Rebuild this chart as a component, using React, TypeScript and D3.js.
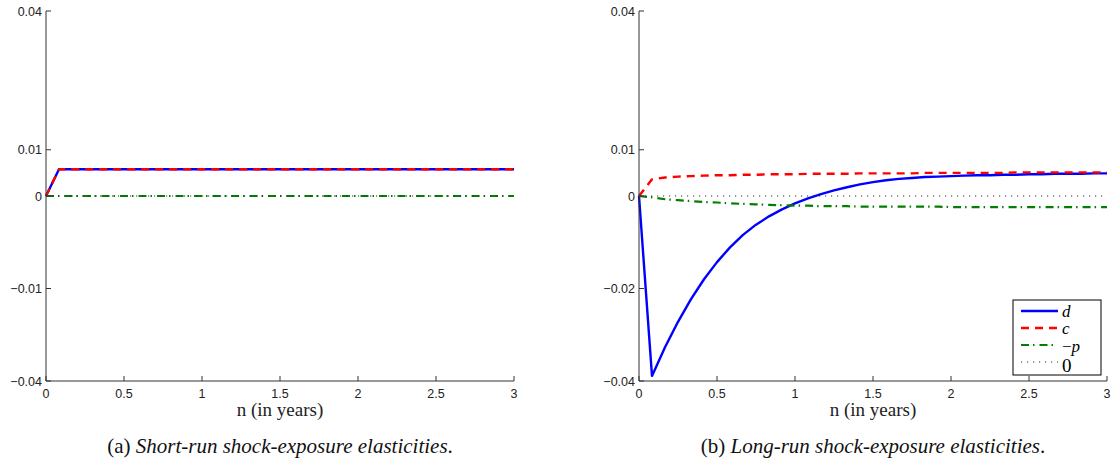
import React from "react";
import * as d3 from "d3";

// ---- data ----
const monthIndex = [0,1,2,3,4,5,6,7,8,9,10,11,12,13,14,15,16,17,18,19,20,21,22,23,24,25,26,27,28,29,30,31,32,33,34,35,36];
const years = monthIndex.map((m) => m / 12);

const shortD = [0,0.0058,0.0058,0.0058,0.0058,0.0058,0.0058,0.0058,0.0058,0.0058,0.0058,0.0058,0.0058,0.0058,0.0058,0.0058,0.0058,0.0058,0.0058,0.0058,0.0058,0.0058,0.0058,0.0058,0.0058,0.0058,0.0058,0.0058,0.0058,0.0058,0.0058,0.0058,0.0058,0.0058,0.0058,0.0058,0.0058];
const shortC = [0,0.0058,0.0058,0.0058,0.0058,0.0058,0.0058,0.0058,0.0058,0.0058,0.0058,0.0058,0.0058,0.0058,0.0058,0.0058,0.0058,0.0058,0.0058,0.0058,0.0058,0.0058,0.0058,0.0058,0.0058,0.0058,0.0058,0.0058,0.0058,0.0058,0.0058,0.0058,0.0058,0.0058,0.0058,0.0058,0.0058];
const shortP = [0,0,0,0,0,0,0,0,0,0,0,0,0,0,0,0,0,0,0,0,0,0,0,0,0,0,0,0,0,0,0,0,0,0,0,0,0];
const zeroLine = [0,0,0,0,0,0,0,0,0,0,0,0,0,0,0,0,0,0,0,0,0,0,0,0,0,0,0,0,0,0,0,0,0,0,0,0,0];

const longD = [0,-0.0389,-0.0327,-0.0272,-0.0223,-0.0180,-0.0143,-0.0111,-0.0084,-0.0062,-0.0044,-0.0029,-0.0016,-0.0005,0.0004,0.0012,0.0019,0.0025,0.0030,0.0034,0.0037,0.0039,0.0041,0.0042,0.0043,0.0044,0.0045,0.0045,0.0046,0.0046,0.0047,0.0047,0.0048,0.0048,0.0048,0.0049,0.0049];
const longC = [0,0.0036,0.0040,0.0042,0.0043,0.0044,0.0045,0.0045,0.0046,0.0046,0.0047,0.0047,0.0047,0.0048,0.0048,0.0048,0.0048,0.0049,0.0049,0.0049,0.0049,0.0049,0.0050,0.0050,0.0050,0.0050,0.0050,0.0050,0.0050,0.0051,0.0051,0.0051,0.0051,0.0051,0.0051,0.0051,0.0051];
const longP = [0,-0.0003,-0.0007,-0.0009,-0.0011,-0.0013,-0.0014,-0.0016,-0.0017,-0.0018,-0.0019,-0.0020,-0.0021,-0.0021,-0.0022,-0.0022,-0.0022,-0.0023,-0.0023,-0.0023,-0.0023,-0.0023,-0.0023,-0.0023,-0.0024,-0.0024,-0.0024,-0.0024,-0.0024,-0.0024,-0.0024,-0.0024,-0.0024,-0.0024,-0.0024,-0.0024,-0.0024];

const xTicks = [0, 0.5, 1, 1.5, 2, 2.5, 3];
const xTickLabels = ["0", "0.5", "1", "1.5", "2", "2.5", "3"];
const yTicks = [0.04, 0.01, 0, -0.02, -0.04];
const yTickLabelsShort = ["0.04", "0.01", "0", "\u22120.01", "\u22120.04"];
const yTickLabelsLong = ["0.04", "0.01", "0", "\u22120.02", "\u22120.04"];

const legendLabels = ["d", "c", "\u2212p", "0"];

// ---- styles ----
const seriesStyles = [
  { color: "#0000ff", width: 2.4, dash: "" },
  { color: "#ff0000", width: 2.4, dash: "8,6" },
  { color: "#008000", width: 2.2, dash: "8,4,1.5,5" },
  { color: "#333333", width: 1, dash: "1.2,4.8" },
];

const axisColor = "#333";
const sansFont = "'Liberation Sans', Arial, Helvetica, sans-serif";
const serifFont = "'Liberation Serif', 'Times New Roman', serif";

type PanelProps = {
  x0: number;
  x1: number;
  series: number[][];
  yLabels: string[];
  caption: [string, string];
  legend?: boolean;
};

const Y_TOP = 11;
const Y_BOTTOM = 381;

function Panel({ x0, x1, series, yLabels, caption, legend }: PanelProps) {
  const x = d3.scaleLinear().domain([0, 3]).range([x0, x1]);
  const y = d3.scaleLinear().domain([-0.04, 0.04]).range([Y_BOTTOM, Y_TOP]);
  const line = d3
    .line<number>()
    .x((_, i) => x(years[i]))
    .y((v) => y(v));
  const cx = (x0 + x1) / 2;
  return (
    <g>
      {series.map((s, k) => (
        <path
          key={k}
          d={line(s) || ""}
          fill="none"
          stroke={seriesStyles[k].color}
          strokeWidth={seriesStyles[k].width}
          strokeDasharray={seriesStyles[k].dash || undefined}
          strokeLinejoin="round"
        />
      ))}
      <line x1={x0} x2={x0} y1={Y_TOP} y2={Y_BOTTOM} stroke={axisColor} strokeWidth={1} />
      <line x1={x0} x2={x1} y1={Y_BOTTOM} y2={Y_BOTTOM} stroke={axisColor} strokeWidth={1} />
      {yTicks.map((t, i) => (
        <g key={"y" + i}>
          <line x1={x0} x2={x0 + 5} y1={y(t)} y2={y(t)} stroke={axisColor} />
          <text
            x={x0 - 4}
            y={y(t)}
            dy="0.36em"
            textAnchor="end"
            fontFamily={sansFont}
            fontSize={12.5}
            fill="#222"
          >
            {yLabels[i]}
          </text>
        </g>
      ))}
      {xTicks.map((t, i) => (
        <g key={"x" + i}>
          <line x1={x(t)} x2={x(t)} y1={Y_BOTTOM} y2={Y_BOTTOM - 5} stroke={axisColor} />
          <text
            x={x(t)}
            y={398}
            textAnchor="middle"
            fontFamily={sansFont}
            fontSize={12.5}
            fill="#222"
          >
            {xTickLabels[i]}
          </text>
        </g>
      ))}
      <text x={cx} y={416} textAnchor="middle" fontFamily={serifFont} fontSize={19} fill="#222">
        n (in years)
      </text>
      <text x={cx} y={453} textAnchor="middle" fontFamily={serifFont} fontSize={21} fill="#111">
        <tspan>{caption[0]} </tspan>
        <tspan fontStyle="italic">{caption[1]}</tspan>
        <tspan>.</tspan>
      </text>
      {legend && (
        <g>
          <rect x={1013} y={300} width={88} height={75} fill="#fff" stroke="#000" strokeWidth={1} />
          {legendLabels.map((lab, i) => {
            const ly = 311 + i * 17;
            const st = seriesStyles[i];
            const baselines = [317, 334, 352, 372];
            return (
              <g key={"l" + i}>
                <line
                  x1={1021}
                  x2={1058}
                  y1={ly}
                  y2={ly}
                  stroke={st.color}
                  strokeWidth={st.width}
                  strokeDasharray={st.dash || undefined}
                />
                {lab === "\u2212p" ? (
                  <text x={1062} y={baselines[i]} fontFamily={serifFont} fontSize={17} fill="#000">
                    <tspan>{"\u2212"}</tspan>
                    <tspan fontStyle="italic">p</tspan>
                  </text>
                ) : (
                  <text
                    x={1062}
                    y={baselines[i]}
                    fontFamily={serifFont}
                    fontSize={lab === "0" ? 19 : 17}
                    fontStyle={lab === "0" ? "normal" : "italic"}
                    fill="#000"
                  >
                    {lab}
                  </text>
                )}
              </g>
            );
          })}
        </g>
      )}
    </g>
  );
}

export default function App() {
  return (
    <svg
      width={1116}
      height={466}
      viewBox="0 0 1116 466"
      style={{ position: "absolute", left: 0, top: 0, background: "#fff" }}
    >
      <rect width={1116} height={466} fill="#fff" />
      <Panel
        x0={46}
        x1={514}
        series={[shortD, shortC, shortP, zeroLine]}
        yLabels={yTickLabelsShort}
        caption={["(a)", "Short-run shock-exposure elasticities"]}
      />
      <Panel
        x0={639}
        x1={1107}
        series={[longD, longC, longP, zeroLine]}
        yLabels={yTickLabelsLong}
        caption={["(b)", "Long-run shock-exposure elasticities"]}
        legend
      />
    </svg>
  );
}
